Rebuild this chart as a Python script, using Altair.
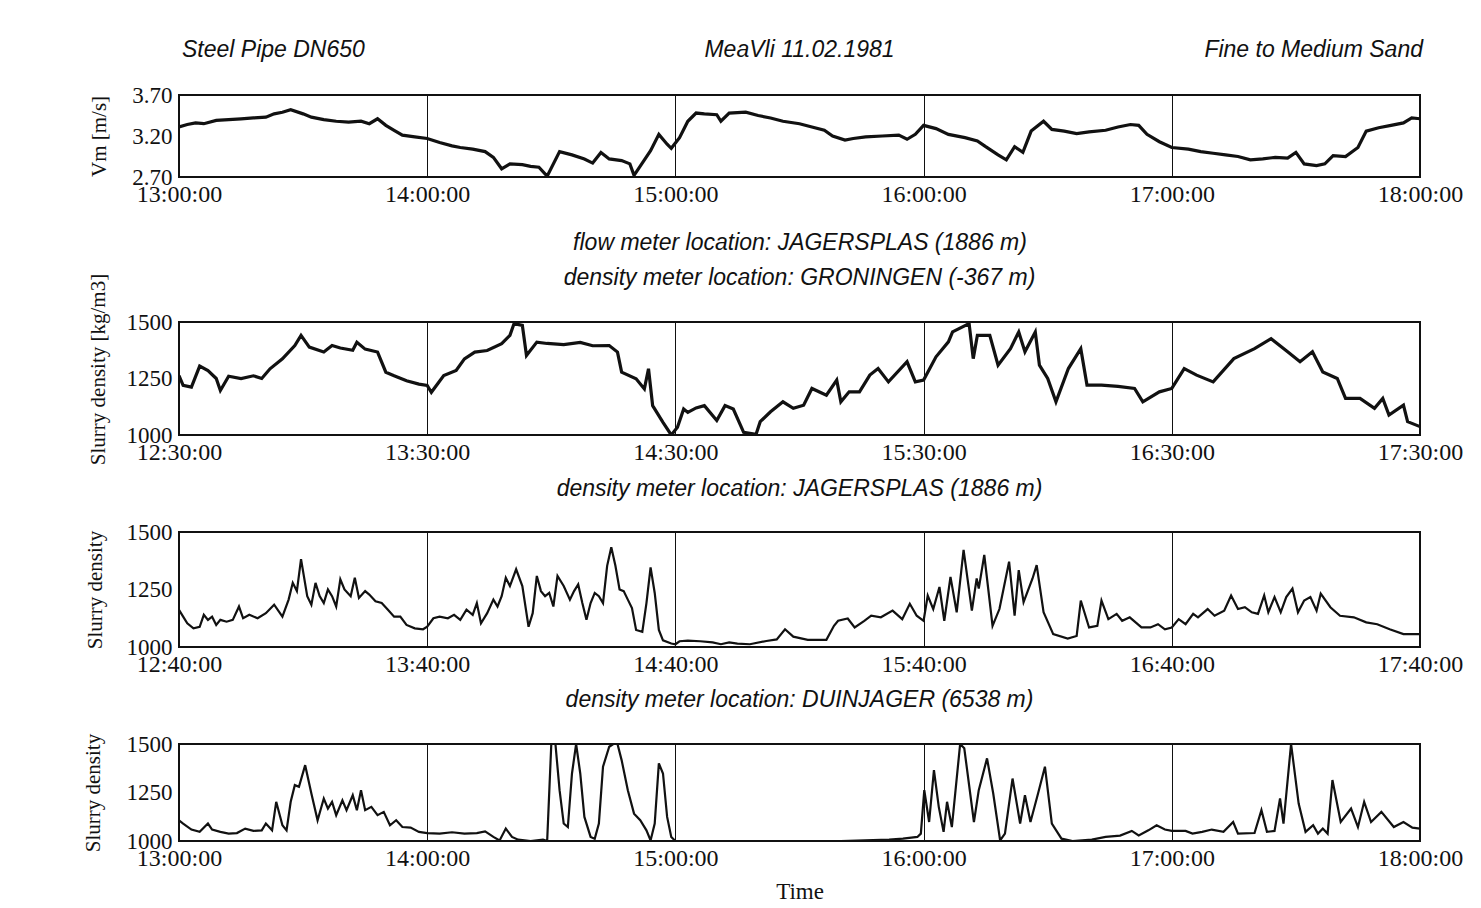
import altair as alt
import pandas as pd

DATE = "1981-02-11T"

# ---------------- Panel 1: mixture velocity Vm [m/s], 13:00-18:00
P1_T = ["13:00", "13:02", "13:04", "13:06", "13:09", "13:12", "13:15", "13:18", "13:21", "13:23",
        "13:25", "13:27", "13:30", "13:32", "13:35", "13:38", "13:41", "13:44", "13:46", "13:48",
        "13:50", "13:52", "13:54", "13:57", "14:00", "14:03", "14:06", "14:08", "14:11", "14:14",
        "14:16", "14:18", "14:20", "14:23", "14:25", "14:27", "14:29", "14:32", "14:35", "14:38",
        "14:40", "14:42", "14:44", "14:47", "14:49", "14:50", "14:54", "14:56", "14:58", "14:59",
        "15:01", "15:03", "15:05", "15:07", "15:10", "15:11", "15:13", "15:17", "15:20", "15:23",
        "15:26", "15:30", "15:33", "15:36", "15:38", "15:41", "15:43", "15:46", "15:50", "15:54",
        "15:56", "15:58", "16:00", "16:03", "16:06", "16:10", "16:13", "16:15", "16:18", "16:20",
        "16:22", "16:24", "16:26", "16:29", "16:31", "16:34", "16:37", "16:40", "16:44", "16:47",
        "16:50", "16:52", "16:54", "16:57", "17:00", "17:04", "17:07", "17:10", "17:13", "17:16",
        "17:19", "17:22", "17:25", "17:28", "17:30", "17:32", "17:35", "17:37", "17:39", "17:42",
        "17:45", "17:47", "17:50", "17:53", "17:56", "17:58", "18:00"]
P1_V = [3.31, 3.34, 3.36, 3.35, 3.39, 3.40, 3.41, 3.42, 3.43, 3.47,
        3.49, 3.52, 3.47, 3.43, 3.40, 3.38, 3.37, 3.38, 3.35, 3.41,
        3.33, 3.27, 3.21, 3.19, 3.17, 3.12, 3.08, 3.06, 3.04, 3.01,
        2.94, 2.80, 2.86, 2.85, 2.83, 2.82, 2.71, 3.01, 2.97, 2.92,
        2.87, 3.00, 2.92, 2.90, 2.86, 2.72, 3.02, 3.22, 3.10, 3.05,
        3.18, 3.38, 3.48, 3.47, 3.46, 3.38, 3.48, 3.49, 3.45, 3.42,
        3.38, 3.35, 3.31, 3.27, 3.20, 3.15, 3.17, 3.19, 3.20, 3.21,
        3.16, 3.22, 3.33, 3.29, 3.22, 3.18, 3.14, 3.07, 2.97, 2.91,
        3.07, 3.00, 3.26, 3.38, 3.28, 3.26, 3.23, 3.25, 3.27, 3.31,
        3.34, 3.33, 3.22, 3.13, 3.06, 3.04, 3.01, 2.99, 2.97, 2.95,
        2.91, 2.92, 2.94, 2.93, 3.00, 2.86, 2.84, 2.86, 2.96, 2.95,
        3.06, 3.26, 3.30, 3.33, 3.36, 3.42, 3.41]

# ---------------- Panel 2: density at GRONINGEN, 12:30-17:30
P2_T = ["12:30", "12:31", "12:33", "12:35", "12:37", "12:39", "12:40", "12:42", "12:45", "12:48",
        "12:50", "12:52", "12:55", "12:58", "12:59:30", "13:01:30", "13:05", "13:07", "13:09", "13:12",
        "13:13", "13:15", "13:18", "13:20", "13:22", "13:25", "13:28", "13:30", "13:31", "13:34",
        "13:37", "13:39", "13:41:30", "13:44:30", "13:48", "13:50", "13:51", "13:53", "13:54", "13:56:30",
        "13:59", "14:03", "14:07", "14:10", "14:14", "14:16", "14:17", "14:20:30", "14:22:30", "14:23:30",
        "14:24:30", "14:27", "14:29", "14:30:30", "14:32", "14:33", "14:35", "14:37", "14:40", "14:42",
        "14:44", "14:46:30", "14:49:30", "14:50:30", "14:53", "14:56", "14:58:30", "15:01", "15:03", "15:06:30",
        "15:09", "15:10", "15:12", "15:14:30", "15:17", "15:19", "15:21:30", "15:26", "15:28", "15:30",
        "15:33", "15:36", "15:37", "15:41", "15:42", "15:43", "15:46", "15:48", "15:51", "15:53",
        "15:54:30", "15:57", "15:58", "16:00", "16:02", "16:05", "16:08", "16:09:30", "16:13", "16:17",
        "16:21", "16:23", "16:27", "16:30", "16:33", "16:36", "16:40", "16:45", "16:50", "16:54",
        "16:58", "17:01", "17:04", "17:06:30", "17:10", "17:12", "17:15:30", "17:19", "17:21", "17:22:30",
        "17:26", "17:27", "17:30"]
P2_V = [1263, 1220, 1212, 1305, 1285, 1250, 1197, 1260, 1250, 1262,
        1250, 1293, 1337, 1396, 1441, 1389, 1367, 1396, 1385, 1375,
        1410, 1380, 1367, 1278, 1262, 1240, 1225, 1219, 1189, 1263,
        1286, 1337, 1367, 1374, 1404, 1441, 1493, 1485, 1352, 1411,
        1405, 1400, 1410, 1395, 1396, 1367, 1278, 1249, 1204, 1293,
        1130, 1056, 1000, 1034, 1115, 1100, 1120, 1130, 1064, 1130,
        1115, 1012, 1003, 1059, 1103, 1147, 1118, 1132, 1206, 1176,
        1243, 1147, 1191, 1191, 1265, 1294, 1235, 1324, 1235, 1243,
        1346, 1412, 1456, 1493, 1338, 1441, 1441, 1309, 1382, 1456,
        1368, 1456, 1309, 1250, 1147, 1294, 1382, 1221, 1221, 1215,
        1206, 1147, 1191, 1206, 1294, 1265, 1235, 1338, 1382, 1426,
        1368, 1324, 1368, 1279, 1250, 1162, 1162, 1118, 1162, 1088,
        1132, 1059, 1037]

# ---------------- Panel 3: density at JAGERSPLAS, 12:40-17:40
P3_T = ["12:40", "12:41", "12:42", "12:43:30", "12:45", "12:46", "12:47", "12:48", "12:49", "12:50",
        "12:51:30", "12:53", "12:54:30", "12:55:30", "12:57", "12:59", "13:01", "13:03", "13:05", "13:06:30",
        "13:07:30", "13:08:30", "13:09:30", "13:11", "13:12", "13:13", "13:14", "13:15", "13:16", "13:17",
        "13:18", "13:19", "13:20", "13:21:30", "13:22:30", "13:23:30", "13:25", "13:26", "13:27:30", "13:29",
        "13:30:30", "13:32", "13:33:30", "13:35", "13:37", "13:39", "13:40", "13:41:30", "13:43", "13:45",
        "13:46:30", "13:48", "13:49:30", "13:51", "13:52", "13:53", "13:54:30", "13:56", "13:57", "13:58",
        "13:59", "14:00", "14:01:30", "14:03", "14:04:30", "14:05:30", "14:06:30", "14:07:30", "14:08:30", "14:09:30",
        "14:10:30", "14:11:30", "14:13", "14:14:30", "14:15:30", "14:16:30", "14:17:30", "14:18:30", "14:19:30", "14:20:30",
        "14:21:30", "14:22:30", "14:23:30", "14:24:30", "14:25:30", "14:26:30", "14:27:30", "14:28:30", "14:29:30", "14:30:30",
        "14:32", "14:33", "14:34", "14:35", "14:36", "14:37", "14:39", "14:40", "14:41", "14:43",
        "14:46", "14:49", "14:51", "14:53", "14:55", "14:58", "15:02", "15:04:30", "15:06:30", "15:08:30",
        "15:12", "15:16:30", "15:18:20", "15:19:20", "15:21:40", "15:23:20", "15:25:40", "15:27:20", "15:29:40", "15:32:30",
        "15:34:50", "15:36:40", "15:38:20", "15:40", "15:41", "15:42:20", "15:43:50", "15:45", "15:46:30", "15:48",
        "15:49:40", "15:51:40", "15:52:50", "15:53:20", "15:54:40", "15:56:40", "15:58:20", "16:00:40", "16:02", "16:03",
        "16:04:10", "16:06:20", "16:07:20", "16:09", "16:11:20", "16:14:50", "16:17", "16:18", "16:20", "16:22",
        "16:23", "16:24:40", "16:26:40", "16:28", "16:29:50", "16:32:40", "16:34:50", "16:36:40", "16:38:20", "16:40",
        "16:41:40", "16:43:20", "16:45:10", "16:46:20", "16:48:40", "16:50:20", "16:52:40", "16:54:20", "16:56", "16:57:40",
        "16:59:20", "17:00:50", "17:02:20", "17:03:20", "17:04:50", "17:06:20", "17:07:40", "17:09:10", "17:10:30", "17:12",
        "17:13:30", "17:15", "17:16", "17:18:20", "17:20:40", "17:24", "17:27", "17:29:40", "17:32:40", "17:36",
        "17:40"]
P3_V = [1162, 1132, 1103, 1081, 1088, 1140, 1118, 1132, 1096, 1118,
        1110, 1118, 1176, 1125, 1140, 1125, 1147, 1184, 1132, 1206,
        1279, 1243, 1382, 1221, 1184, 1279, 1221, 1191, 1250, 1221,
        1176, 1294, 1250, 1221, 1301, 1213, 1243, 1228, 1199, 1191,
        1162, 1132, 1132, 1096, 1081, 1077, 1088, 1125, 1132, 1125,
        1140, 1118, 1162, 1140, 1191, 1103, 1147, 1206, 1176, 1221,
        1301, 1265, 1338, 1265, 1088, 1147, 1309, 1243, 1221, 1235,
        1176, 1309, 1265, 1206, 1243, 1272, 1191, 1118, 1191, 1235,
        1221, 1191, 1353, 1434, 1353, 1250, 1243, 1206, 1169, 1074,
        1066, 1191, 1346, 1235, 1074, 1029, 1015, 1012, 1025, 1028,
        1025, 1020, 1012, 1020, 1015, 1012, 1026, 1033, 1077, 1045,
        1031, 1031, 1092, 1114, 1124, 1085, 1114, 1136, 1129, 1158,
        1121, 1188, 1136, 1114, 1224, 1165, 1261, 1114, 1305, 1151,
        1422, 1158, 1298, 1254, 1400, 1092, 1165, 1371, 1136, 1334,
        1195, 1298, 1356, 1151, 1056, 1037, 1048, 1202, 1085, 1092,
        1202, 1121, 1144, 1114, 1129, 1085, 1085, 1099, 1077, 1085,
        1121, 1099, 1144, 1129, 1165, 1136, 1158, 1224, 1165, 1173,
        1151, 1144, 1224, 1151, 1217, 1151, 1217, 1254, 1151, 1202,
        1217, 1158, 1232, 1173, 1136, 1129, 1107, 1099, 1077, 1056,
        1056]

# ---------------- Panel 4: density at DUINJAGER, 13:00-18:00
P4_T = ["13:00", "13:01", "13:03", "13:05", "13:07", "13:08", "13:10", "13:12", "13:14", "13:16",
        "13:18", "13:20", "13:21", "13:22:30", "13:23:30", "13:25", "13:26", "13:27", "13:28", "13:29",
        "13:30:30", "13:32", "13:33:30", "13:35", "13:36", "13:37", "13:38", "13:39:30", "13:40:30", "13:42",
        "13:43", "13:44", "13:45", "13:46:30", "13:48", "13:49:30", "13:51", "13:52:30", "13:54", "13:56",
        "13:58", "14:00", "14:03", "14:06", "14:09", "14:12", "14:14", "14:16", "14:17:30", "14:19",
        "14:20:30", "14:22", "14:25", "14:28", "14:29", "14:30", "14:31", "14:32", "14:33", "14:34",
        "14:35", "14:36", "14:37", "14:38", "14:39:30", "14:40:30", "14:41:30", "14:42:30", "14:44", "14:45",
        "14:46", "14:47", "14:48:30", "14:50", "14:51:30", "14:53", "14:54", "14:55", "14:56", "14:57",
        "14:58", "14:59", "15:00", "15:20", "15:40", "15:51:40", "15:55", "15:58:30", "15:59:20", "16:00:10",
        "16:01:20", "16:02:30", "16:03:40", "16:04:50", "16:05:40", "16:06:50", "16:08:50", "16:09:50", "16:12:10", "16:13:20",
        "16:15:20", "16:16:50", "16:18:30", "16:19:40", "16:21:30", "16:23:20", "16:24:30", "16:25:50", "16:27:40", "16:29:20",
        "16:31", "16:33:20", "16:36", "16:40:40", "16:44", "16:47:30", "16:50:20", "16:52", "16:54:20", "16:56:20",
        "16:58:20", "17:00", "17:03:20", "17:05", "17:07:20", "17:09:40", "17:12:30", "17:14:50", "17:16", "17:20",
        "17:21:40", "17:23", "17:24:50", "17:26:10", "17:27", "17:28:50", "17:30:40", "17:32:20", "17:34:10", "17:35:20",
        "17:36:30", "17:37:40", "17:38:50", "17:40:50", "17:43:20", "17:45", "17:46:30", "17:48:10", "17:50:40", "17:53:40",
        "17:56", "17:58:10", "18:00"]
P4_V = [1107, 1090, 1059, 1047, 1090, 1059, 1047, 1038, 1041, 1064,
        1052, 1055, 1090, 1055, 1202, 1081, 1055, 1202, 1288, 1279,
        1391, 1245, 1107, 1219, 1167, 1202, 1133, 1210, 1159, 1236,
        1159, 1262, 1159, 1176, 1133, 1150, 1081, 1107, 1072, 1069,
        1047, 1041, 1038, 1045, 1038, 1041, 1050, 1021, 1003, 1064,
        1021, 1007, 1000, 1007, 1000, 1500, 1500, 1262, 1090, 1072,
        1348, 1500, 1348, 1124, 1021, 1012, 1090, 1383, 1486, 1500,
        1500, 1417, 1262, 1141, 1107, 1055, 1003, 1090, 1400, 1348,
        1124, 1021, 1000, 1000, 1000, 1007, 1012, 1021, 1038, 1262,
        1098, 1365, 1176, 1047, 1202, 1072, 1500, 1478, 1098, 1262,
        1426, 1245, 1003, 1038, 1322, 1090, 1236, 1098, 1245, 1383,
        1090, 1012, 1000, 1007, 1021, 1028, 1052, 1029, 1055, 1081,
        1059, 1052, 1052, 1038, 1047, 1059, 1047, 1098, 1038, 1041,
        1159, 1047, 1052, 1219, 1090, 1500, 1193, 1047, 1081, 1038,
        1064, 1038, 1314, 1098, 1167, 1072, 1202, 1098, 1150, 1072,
        1098, 1069, 1064]

TOP_LEFT = "Steel Pipe DN650"
TOP_MID = "MeaVli 11.02.1981"
TOP_RIGHT = "Fine to Medium Sand"
SUB_FLOW = "flow meter location: JAGERSPLAS (1886 m)"
SUB_P2 = "density meter location: GRONINGEN (-367 m)"
SUB_P3 = "density meter location: JAGERSPLAS (1886 m)"
SUB_P4 = "density meter location: DUINJAGER (6538 m)"

W = 1241
SERIF = "Liberation Serif"
SANS = "Liberation Sans"
INK = "#111111"
TXT = 23


def frame(ts, vs):
    full = [DATE + (t if t.count(":") == 2 else t + ":00") for t in ts]
    return pd.DataFrame({"t": full, "v": vs})


def dt(h, m):
    return alt.DateTime(year=1981, month=2, date=11, hours=h, minutes=m)


def note(s, xpos, ypos, align="center"):
    return alt.Chart(pd.DataFrame({"s": [s]})).mark_text(
        font=SANS, fontStyle="italic", fontSize=TXT, color=INK, align=align, baseline="middle"
    ).encode(text="s:N", x=alt.value(xpos), y=alt.value(ypos))


def panel(ts, vs, h0, m0, ydom, yvals, yfmt, ytitle, height, lw, ytpad,
          xtitle=None, xtitle_sans=False, ytitle_y=None):
    ticks = [dt(h0 + i, m0) for i in range(6)]
    xaxis_kw = dict(values=ticks, format="%H:%M:%S", labelFlush=False, grid=True,
                    gridColor=INK, gridWidth=1, ticks=False, domain=False,
                    labelFont=SERIF, labelFontSize=24, labelColor=INK, labelPadding=5,
                    labelOverlap=False)
    if xtitle is None:
        xaxis_kw["title"] = None
    else:
        xaxis_kw.update(title=xtitle, titleFontWeight="normal", titleColor=INK)
        if xtitle_sans:
            xaxis_kw.update(titleFont=SANS, titleFontStyle="italic", titleFontSize=TXT,
                            titlePadding=25)
        else:
            xaxis_kw.update(titleFont=SERIF, titleFontSize=23, titlePadding=10)
    yaxis_kw = dict(values=yvals, format=yfmt, grid=False, ticks=False, domain=False,
                    labelFont=SERIF, labelFontSize=23, labelColor=INK, labelPadding=7,
                    title=ytitle, titleFont=SERIF, titleFontSize=21,
                    titleFontWeight="normal", titleColor=INK, titlePadding=ytpad)
    if ytitle_y is not None:
        yaxis_kw["titleY"] = ytitle_y
    return alt.Chart(frame(ts, vs)).mark_line(color=INK, strokeWidth=lw, clip=True).encode(
        x=alt.X("t:T", scale=alt.Scale(domain=[ticks[0], ticks[-1]], nice=False),
                axis=alt.Axis(**xaxis_kw)),
        y=alt.Y("v:Q", scale=alt.Scale(domain=ydom, nice=False, zero=False),
                axis=alt.Axis(**yaxis_kw)),
    )


DENS_DOM = [1000, 1500]
DENS_TICKS = [1000, 1250, 1500]

l1 = panel(P1_T, P1_V, 13, 0, [2.7, 3.7], [2.7, 3.2, 3.7], ".2f", "Vm [m/s]", 82, 3.2, 22,
           xtitle=SUB_FLOW, xtitle_sans=True)
c1 = alt.layer(l1, note(TOP_LEFT, 3, -45, "left"), note(TOP_MID, W / 2, -45),
               note(TOP_RIGHT, W + 3, -45, "right")).properties(width=W, height=82)

l2 = panel(P2_T, P2_V, 12, 30, DENS_DOM, DENS_TICKS, "d", "Slurry density [kg/m3]", 113, 3.2, 18,
           ytitle_y=47)
c2 = alt.layer(l2, note(SUB_P2, W / 2, -44)).properties(width=W, height=113)

l3 = panel(P3_T, P3_V, 12, 40, DENS_DOM, DENS_TICKS, "d", "Slurry density", 115, 2.2, 21)
c3 = alt.layer(l3, note(SUB_P3, W / 2, -43)).properties(width=W, height=115)

l4 = panel(P4_T, P4_V, 13, 0, DENS_DOM, DENS_TICKS, "d", "Slurry density", 97, 2.2, 23,
           xtitle="Time")
c4 = alt.layer(l4, note(SUB_P4, W / 2, -44)).properties(width=W, height=97)

chart = alt.vconcat(c1, c2, c3, c4, spacing=11).properties(
    padding={"left": 73, "top": 30, "right": 5, "bottom": 0}
).configure_view(stroke=INK, strokeWidth=2)

chart.save("out.html", embed_options={"renderer": "svg", "actions": False})
